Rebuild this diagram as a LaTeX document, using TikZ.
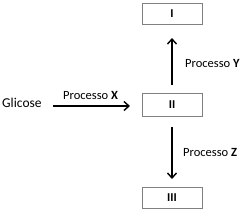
\documentclass[tikz,border=0pt]{standalone}
\usepackage{fontspec}
\setmainfont{Carlito}
\usetikzlibrary{arrows.meta}
\begin{document}
\begin{tikzpicture}[x=1pt,y=1pt,
  boxnode/.style={draw=black!50,line width=0.8pt,minimum width=60pt,minimum height=21pt,inner sep=0pt,font=\fontsize{12}{13}\selectfont\bfseries},
  arr/.style={line width=1.5pt,-{Straight Barb[length=5pt,width=9pt,line width=1.4pt]}},
  lab/.style={font=\fontsize{12.5}{14}\selectfont,inner sep=0pt}]
\useasboundingbox (0,0) rectangle (242,210);
\node[boxnode] (I) at (172,196.5) {I};
\node[boxnode,minimum height=23pt] (II) at (172,105.5) {II};
\node[boxnode] (III) at (172,12.5) {III};
\node[font=\fontsize{13.5}{15}\selectfont,inner sep=0pt,anchor=west] (g) at (2,107) {Glicose};
\coordinate (gs) at (53,104);
\coordinate (ge) at (130,104);
\coordinate (us) at (172,125);
\coordinate (ue) at (172,172);
\coordinate (ds) at (172,83);
\coordinate (de) at (172,31);
\draw[arr] (gs) -- (ge);
\draw[arr] (us) -- (ue);
\draw[arr] (ds) -- (de);
\node[lab,anchor=west] (px) at (63,115) {Processo \textbf{X}};
\node[lab,anchor=west] (py) at (185,147) {Processo \textbf{Y}};
\node[lab,anchor=west] (pz) at (183,58) {Processo \textbf{Z}};
\end{tikzpicture}
\end{document}
